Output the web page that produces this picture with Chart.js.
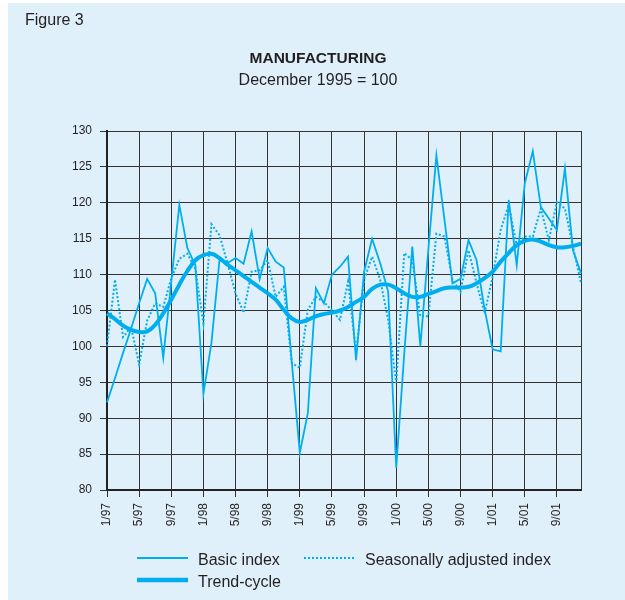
<!DOCTYPE html>
<html>
<head>
<meta charset="utf-8">
<script src="https://cdn.jsdelivr.net/npm/chart.js@4"></script>
<style>
  body { margin: 0; background: #fff; }
  canvas { display: block; }
</style>
</head>
<body>
<canvas id="manufacturing" width="625" height="600"></canvas>
<script>
// Monthly categories, 1/97 .. 12/01
const months = [
  "1/97", "2/97", "3/97", "4/97", "5/97", "6/97", "7/97", "8/97", "9/97", "10/97", "11/97", "12/97",
  "1/98", "2/98", "3/98", "4/98", "5/98", "6/98", "7/98", "8/98", "9/98", "10/98", "11/98", "12/98",
  "1/99", "2/99", "3/99", "4/99", "5/99", "6/99", "7/99", "8/99", "9/99", "10/99", "11/99", "12/99",
  "1/00", "2/00", "3/00", "4/00", "5/00", "6/00", "7/00", "8/00", "9/00", "10/00", "11/00", "12/00",
  "1/01", "2/01", "3/01", "4/01", "5/01", "6/01", "7/01", "8/01", "9/01", "10/01", "11/01", "12/01"
];

const basicIndex = [
  92.2, 95.6, 99.1, 102.5, 106.0, 109.4, 107.4, 98.4, 109.0, 119.7, 113.7, 111.3,
  93.4, 100.5, 112.0, 111.6, 112.3, 111.5, 116.0, 109.4, 113.7, 111.8, 111.0, 97.8,
  85.2, 90.7, 108.1, 106.0, 110.0, 111.1, 112.5, 98.1, 110.4, 115.0, 111.6, 107.6,
  83.1, 99.0, 113.9, 100.0, 113.5, 126.6, 117.7, 108.8, 109.4, 114.8, 112.0, 105.2,
  99.6, 99.3, 120.4, 111.3, 122.7, 127.2, 119.4, 117.8, 116.2, 124.8, 113.4, 110.2
];

const seasonallyAdjusted = [
  100.0, 109.3, 101.3, 102.7, 97.5, 103.6, 106.0, 105.5, 109.5, 112.2, 112.9, 110.8,
  103.2, 117.0, 115.5, 111.6, 107.4, 104.7, 110.4, 110.6, 112.0, 106.9, 108.3, 97.7,
  97.0, 105.1, 106.9, 106.2, 105.0, 103.7, 109.0, 99.0, 109.3, 112.5, 109.3, 103.7,
  94.9, 113.0, 112.0, 104.2, 104.2, 115.7, 115.3, 109.3, 107.6, 113.4, 108.8, 104.6,
  109.7, 116.2, 119.7, 114.1, 115.3, 115.3, 119.2, 114.8, 120.1, 119.2, 113.9, 108.8
];

const trendCycle = [
  104.6, 103.8, 102.9, 102.3, 102.0, 102.1, 103.0, 104.6, 106.5, 108.6, 110.5, 112.0,
  112.7, 112.9, 112.3, 111.4, 110.6, 109.8, 109.0, 108.2, 107.4, 106.5, 105.1, 103.9,
  103.4, 103.7, 104.2, 104.5, 104.7, 105.0, 105.5, 106.2, 106.9, 108.0, 108.6, 108.6,
  108.1, 107.4, 106.9, 106.9, 107.3, 107.7, 108.1, 108.2, 108.2, 108.3, 108.8, 109.5,
  110.4, 111.8, 113.0, 114.1, 114.7, 114.9, 114.6, 114.1, 113.8, 113.8, 114.0, 114.3
];

const yMin = 80, yMax = 130, yStep = 5;
const labelEvery = 4;

const BLUE = "#00aeef";
const BG = "#dff0fb";
const GRID = "#333333";
const TEXT = "#231f20";
const FONT = "'Liberation Sans', Arial, Helvetica, sans-serif";

// background, headings and the legend
const decorations = {
  id: "decorations",
  beforeDraw(chart) {
    const ctx = chart.ctx;
    ctx.save();
    ctx.fillStyle = "#fff";
    ctx.fillRect(0, 0, chart.width, chart.height);
    ctx.fillStyle = BG;
    ctx.fillRect(8, 3, chart.width - 8, chart.height - 3);

    ctx.fillStyle = TEXT;
    ctx.textBaseline = "middle";
    ctx.textAlign = "left";
    ctx.font = "16px " + FONT;
    ctx.fillText("Figure 3", 25, 21);

    ctx.textAlign = "center";
    ctx.font = "bold 15.5px " + FONT;
    ctx.fillText("MANUFACTURING", 318, 59);
    ctx.font = "16px " + FONT;
    ctx.fillText("December 1995 = 100", 318, 81);
    ctx.restore();
  },
  afterDraw(chart) {
    const ctx = chart.ctx;
    ctx.save();
    ctx.strokeStyle = BLUE;
    ctx.lineCap = "butt";

    ctx.lineWidth = 2;
    ctx.beginPath(); ctx.moveTo(137, 558); ctx.lineTo(188, 558); ctx.stroke();

    ctx.setLineDash([2, 2]);
    ctx.beginPath(); ctx.moveTo(304, 558); ctx.lineTo(356, 558); ctx.stroke();
    ctx.setLineDash([]);

    ctx.lineWidth = 4.5;
    ctx.beginPath(); ctx.moveTo(137, 580); ctx.lineTo(188, 580); ctx.stroke();

    ctx.fillStyle = TEXT;
    ctx.font = "16px " + FONT;
    ctx.textBaseline = "middle";
    ctx.textAlign = "left";
    ctx.fillText("Basic index", 198, 561);
    ctx.fillText("Seasonally adjusted index", 365, 561);
    ctx.fillText("Trend-cycle", 198, 583);
    ctx.restore();
  }
};

new Chart(document.getElementById("manufacturing"), {
  type: "line",
  data: {
    labels: months,
    datasets: [
      {
        label: "Trend-cycle",
        data: trendCycle,
        borderColor: BLUE,
        borderWidth: 4,
        tension: 0.4,
        pointRadius: 0,
        fill: false,
        order: 0
      },
      {
        label: "Basic index",
        data: basicIndex,
        borderColor: BLUE,
        borderWidth: 1.8,
        tension: 0,
        pointRadius: 0,
        fill: false,
        order: 1
      },
      {
        label: "Seasonally adjusted index",
        data: seasonallyAdjusted,
        borderColor: BLUE,
        borderWidth: 2,
        borderDash: [2, 2],
        tension: 0,
        pointRadius: 0,
        fill: false,
        order: 2
      }
    ]
  },
  options: {
    responsive: false,
    animation: false,
    layout: { padding: { left: 0, top: 131, right: 44, bottom: 0 } },
    plugins: {
      legend: { display: false },
      tooltip: { enabled: false }
    },
    scales: {
      x: {
        type: "category",
        offset: false,
        afterFit(scale) { scale.height = 110; },
        border: { color: "#222", width: 2 },
        grid: {
          color: c => (c.index % labelEvery === 0 || c.index === months.length - 1) ? GRID : "rgba(0,0,0,0)",
          tickColor: c => c.index % labelEvery === 0 ? GRID : "rgba(0,0,0,0)",
          lineWidth: 1,
          tickLength: 7
        },
        ticks: {
          autoSkip: false,
          maxRotation: 90,
          minRotation: 90,
          padding: 6,
          color: TEXT,
          font: { family: FONT, size: 12 },
          callback: (v, i) => i % labelEvery === 0 ? months[i] : ""
        }
      },
      y: {
        min: yMin,
        max: yMax,
        afterFit(scale) { scale.width = 107; },
        border: { color: "#222", width: 2 },
        grid: { color: GRID, lineWidth: 1, tickLength: 7 },
        ticks: {
          stepSize: yStep,
          padding: 8,
          color: TEXT,
          font: { family: FONT, size: 12 }
        }
      }
    }
  },
  plugins: [decorations]
});
</script>
</body>
</html>
